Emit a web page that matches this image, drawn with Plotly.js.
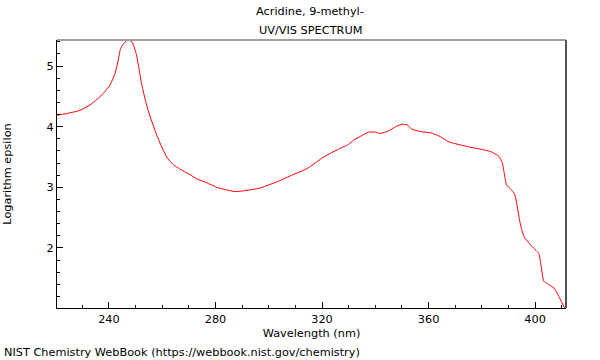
<!DOCTYPE html>
<html>
<head>
<meta charset="utf-8">
<script src="https://cdn.plot.ly/plotly-3.0.1.min.js"></script>
<style>html,body{margin:0;padding:0;background:#fff;}#chart{width:600px;height:360px;}</style>
</head>
<body>
<div id="chart"></div>
<script>
const wavelength = [220.5, 224.5, 229.1, 232.9, 235.5, 237.9, 240.4, 242.3, 243.5, 244.4, 245.7, 247.1, 248.6, 250.2, 251.2, 252.3, 254.0, 255.5, 258.5, 261.7, 264.0, 266.7, 270.0, 273.0, 276.5, 280.5, 284.0, 287.4, 291.8, 296.8, 300.0, 303.1, 308.1, 314.4, 320.6, 325.7, 330.0, 331.9, 334.4, 337.5, 340.0, 341.9, 345.0, 347.6, 350.1, 351.9, 353.8, 356.9, 360.7, 363.8, 367.6, 372.0, 375.8, 379.5, 383.3, 386.4, 387.7, 388.3, 389.3, 390.8, 392.3, 393.3, 394.3, 395.8, 398.3, 400.8, 401.4, 402.3, 403.3, 404.6, 407.1, 408.9, 411.1, 411.6];
const logEpsilon = [4.19, 4.22, 4.27, 4.36, 4.45, 4.55, 4.69, 4.88, 5.10, 5.29, 5.38, 5.43, 5.40, 5.21, 4.98, 4.70, 4.38, 4.16, 3.80, 3.50, 3.38, 3.30, 3.22, 3.14, 3.08, 3.00, 2.96, 2.93, 2.95, 2.99, 3.04, 3.09, 3.19, 3.31, 3.50, 3.62, 3.71, 3.78, 3.84, 3.91, 3.91, 3.89, 3.93, 4.00, 4.04, 4.03, 3.96, 3.92, 3.90, 3.85, 3.75, 3.70, 3.66, 3.63, 3.59, 3.51, 3.40, 3.26, 3.04, 2.97, 2.89, 2.68, 2.43, 2.19, 2.05, 1.94, 1.91, 1.69, 1.45, 1.41, 1.34, 1.20, 1.01, 0.98];
const xTicks = [240, 280, 320, 360, 400];
const yTicks = [2, 3, 4, 5];
const titleLines = ["Acridine, 9-methyl-", "UV/VIS SPECTRUM"];

const font = {family: "DejaVu Sans, sans-serif", size: 11.3, color: "#000"};

Plotly.newPlot("chart", [{
  x: wavelength, y: logEpsilon, type: "scatter", mode: "lines",
  line: {color: "#ff0000", width: 1, shape: "spline", smoothing: 0.6},
  hoverinfo: "skip"
}], {
  width: 600, height: 360,
  margin: {l: 57, r: 34, t: 40, b: 52},
  paper_bgcolor: "#fff", plot_bgcolor: "#fff",
  font: font,
  showlegend: false,
  xaxis: {
    range: [220.5, 411.6], tickvals: xTicks, ticktext: xTicks.map(String),
    ticks: "inside", ticklen: 6, tickcolor: "#000", tickwidth: 1,
    minor: {dtick: 10, tick0: 0, ticks: "inside", ticklen: 3, tickcolor: "#000"},
    showgrid: false, zeroline: false, showline: true, linecolor: "#000", linewidth: 1,
    title: {text: "Wavelength (nm)", font: font, standoff: 4},
    tickfont: font
  },
  yaxis: {
    range: [1.01, 5.43], tickvals: yTicks, ticktext: yTicks.map(String),
    ticks: "inside", ticklen: 6, tickcolor: "#000", tickwidth: 1,
    minor: {dtick: 0.2, tick0: 0, ticks: "inside", ticklen: 3, tickcolor: "#000"},
    showgrid: false, zeroline: false, showline: true, linecolor: "#000", linewidth: 1,
    title: {text: "Logarithm epsilon", font: font, standoff: 32},
    tickfont: font
  },
  shapes: [
    {type: "line", xref: "paper", yref: "paper", x0: 0, x1: 1, y0: 1, y1: 1, line: {color: "#a0a0a0", width: 2}},
    {type: "line", xref: "paper", yref: "paper", x0: 1, x1: 1, y0: 0, y1: 1, line: {color: "#555", width: 2}}
  ],
  annotations: [
    {text: titleLines[0], xref: "paper", yref: "paper", x: (310 - 57) / 509, y: 1 + (40 - 12) / 268,
     xanchor: "center", yanchor: "middle", showarrow: false, font: font},
    {text: titleLines[1], xref: "paper", yref: "paper", x: (310 - 57) / 509, y: 1 + (40 - 30) / 268,
     xanchor: "center", yanchor: "middle", showarrow: false, font: font},
    {text: "NIST Chemistry WebBook (https://webbook.nist.gov/chemistry)",
     xref: "paper", yref: "paper", x: -55 / 509, y: -(352 - 308) / 268, xanchor: "left", yanchor: "middle",
     showarrow: false, font: font}
  ]
}, {staticPlot: true});
</script>
</body>
</html>
